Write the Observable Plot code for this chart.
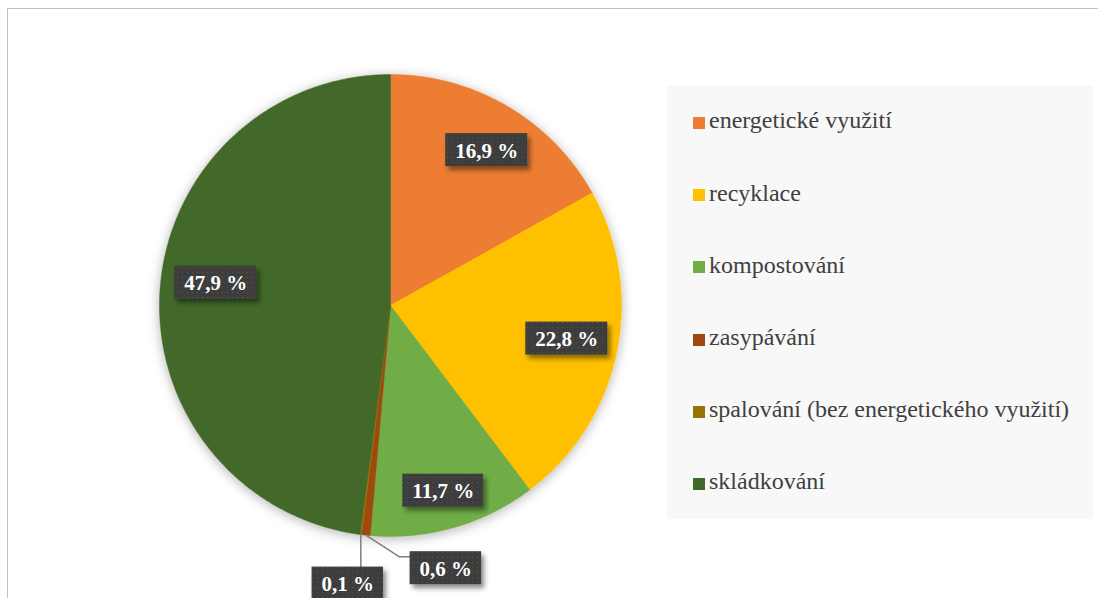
<!DOCTYPE html>
<html><head><meta charset="utf-8">
<script src="https://cdn.jsdelivr.net/npm/d3@7"></script>
<script src="https://cdn.jsdelivr.net/npm/@observablehq/plot@0.6"></script>
<style>
html,body{margin:0;padding:0;background:#fff;}
#wrap{position:relative;width:1098px;height:598px;overflow:hidden;}
#frame{position:absolute;left:7px;top:8px;width:1200px;height:700px;border:1px solid #bfbfbf;}
#chart{position:absolute;left:0;top:0;}
#legend{position:absolute;left:667px;top:86px;width:426px;height:433px;background:#f8f8f8;font-family:'Liberation Serif','Times New Roman',serif;font-size:24px;color:#404040;}
.sw{position:absolute;left:26px;width:12px;height:12px;}
.lt{position:absolute;left:42px;line-height:24px;white-space:nowrap;}
</style></head><body>
<div id="wrap"><div id="frame"></div><div id="chart"></div><div id="legend"></div></div>
<script>
// ---- data ----
const categories = ["energetické využití", "recyklace", "kompostování", "zasypávání", "spalování (bez energetického využití)", "skládkování"];
const shares = [16.9, 22.8, 11.7, 0.6, 0.1, 47.9];
const labels = ["16,9 %", "22,8 %", "11,7 %", "0,6 %", "0,1 %", "47,9 %"];
const colors = ["#ED7D31", "#FFC000", "#70AD47", "#9E480E", "#997300", "#43682B"];

// ---- layout ----
const W = 1098, H = 598;
const mL = 159, mT = 74, D = 462;            // pie bounding box in pixels
const mR = W - mL - D, mB = H - mT - D;
const u = 2 / D;                              // data units per pixel
const labelFont = "bold 21px 'Liberation Serif'";
const boxPadX = 9.5, boxH = 33;
// outside-label offsets (pixels) for the thin slices, measured from the slice edge
const outsideOffsets = {"zasypávání": [80, 33], "spalování (bez energetického využití)": [-13, 49]};
// small pixel nudges of the inside labels (best-fit placement)
const insideNudges = {"energetické využití": [5, 0], "recyklace": [0, -4], "kompostování": [3, 12], "skládkování": [5, -11]};

const ctx = document.createElement("canvas").getContext("2d");
ctx.font = labelFont;

const total = d3.sum(shares);
let acc = 0;
const slices = categories.map((c, i) => {
  const a0 = acc / total * 2 * Math.PI; acc += shares[i];
  const a1 = acc / total * 2 * Math.PI;
  return {c, i, a0, a1, mid: (a0 + a1) / 2, share: shares[i], label: labels[i]};
});
const pt = (a, r) => ({x: r * Math.sin(a), y: r * Math.cos(a)});

const piePts = [];
for (const s of slices) {
  piePts.push({c: s.c, x: 0, y: 0});
  const n = Math.max(2, Math.ceil((s.a1 - s.a0) / (Math.PI / 360)));
  for (let k = 0; k <= n; k++) piePts.push({c: s.c, ...pt(s.a0 + (s.a1 - s.a0) * k / n, 1)});
  piePts.push({c: s.c, x: 0, y: 0});
}

const boxes = [], leaders = [];
for (const s of slices) {
  const w = ctx.measureText(s.label).width + 2 * boxPadX;
  let cx, cy;
  if (outsideOffsets[s.c]) {
    const e = pt(s.mid, 1);
    const [ox, oy] = outsideOffsets[s.c];
    cx = e.x + ox * u; cy = e.y - oy * u;
    const left = cx - w / 2 * u, top = cy + boxH / 2 * u;
    if (e.x > left && e.x < cx + w / 2 * u) {
      leaders.push({id: s.c, x: e.x, y: e.y}, {id: s.c, x: e.x, y: top});
    } else {
      leaders.push({id: s.c, x: e.x, y: e.y}, {id: s.c, x: left - 11 * u, y: top - 5 * u}, {id: s.c, x: left, y: top - 5 * u});
    }
  } else {
    const p = pt(s.mid, 0.78);
    const [nx, ny] = insideNudges[s.c] || [0, 0];
    cx = p.x + nx * u; cy = p.y - ny * u;
  }
  boxes.push({label: s.label, cx, cy, x1: cx - w / 2 * u, x2: cx + w / 2 * u, y1: cy - boxH / 2 * u, y2: cy + boxH / 2 * u});
}

const svg = Plot.plot({
  width: W, height: H,
  marginLeft: mL, marginRight: mR, marginTop: mT, marginBottom: mB,
  x: {domain: [-1, 1], axis: null},
  y: {domain: [-1, 1], axis: null},
  color: {domain: categories, range: colors},
  style: {background: "transparent"},
  marks: [
    Plot.line(piePts, {x: "x", y: "y", z: "c", fill: "c", stroke: "c", strokeWidth: 0.5, curve: "linear"}),
    Plot.line(leaders, {x: "x", y: "y", z: "id", stroke: "#7f7f7f", strokeWidth: 1.5, curve: "linear"}),
    Plot.rect(boxes, {x1: "x1", x2: "x2", y1: "y1", y2: "y2", fill: "url(#lblpat)"}),
    Plot.text(boxes, {x: "cx", y: "cy", text: "label", fill: "white", fontSize: 21, fontWeight: "bold", fontFamily: "'Liberation Serif', 'Times New Roman', serif", dy: 1})
  ]
});

// defs: label texture + shadows
const s = d3.select(svg);
const defs = s.insert("defs", ":first-child");
const pat = defs.append("pattern").attr("id", "lblpat").attr("width", 5).attr("height", 5).attr("patternUnits", "userSpaceOnUse");
pat.append("rect").attr("width", 5).attr("height", 5).attr("fill", "#3d3d3d");
pat.append("rect").attr("x", 2).attr("y", 2).attr("width", 1.2).attr("height", 1.2).attr("fill", "#525252");
const f1 = defs.append("filter").attr("id", "pieShadow").attr("x", "-20%").attr("y", "-20%").attr("width", "140%").attr("height", "140%");
f1.append("feDropShadow").attr("dx", 0).attr("dy", 2).attr("stdDeviation", 6).attr("flood-color", "#000").attr("flood-opacity", 0.3);
const f2 = defs.append("filter").attr("id", "boxShadow").attr("x", "-30%").attr("y", "-30%").attr("width", "160%").attr("height", "180%");
f2.append("feDropShadow").attr("dx", 3).attr("dy", 4).attr("stdDeviation", 2.5).attr("flood-color", "#000").attr("flood-opacity", 0.45);
s.selectAll('g[aria-label="line"]').filter((d, i) => i === 0).attr("filter", "url(#pieShadow)");
s.selectAll('g[aria-label="rect"]').attr("filter", "url(#boxShadow)");

document.getElementById("chart").appendChild(svg);

// legend
const leg = d3.select("#legend");
categories.forEach((c, i) => {
  const cy = 37 + i * 72.2;
  leg.append("div").attr("class", "sw").style("top", (cy - 6) + "px").style("background", colors[i]);
  leg.append("div").attr("class", "lt").style("top", (cy - 14.7) + "px").text(c);
});
</script>
</body></html>
